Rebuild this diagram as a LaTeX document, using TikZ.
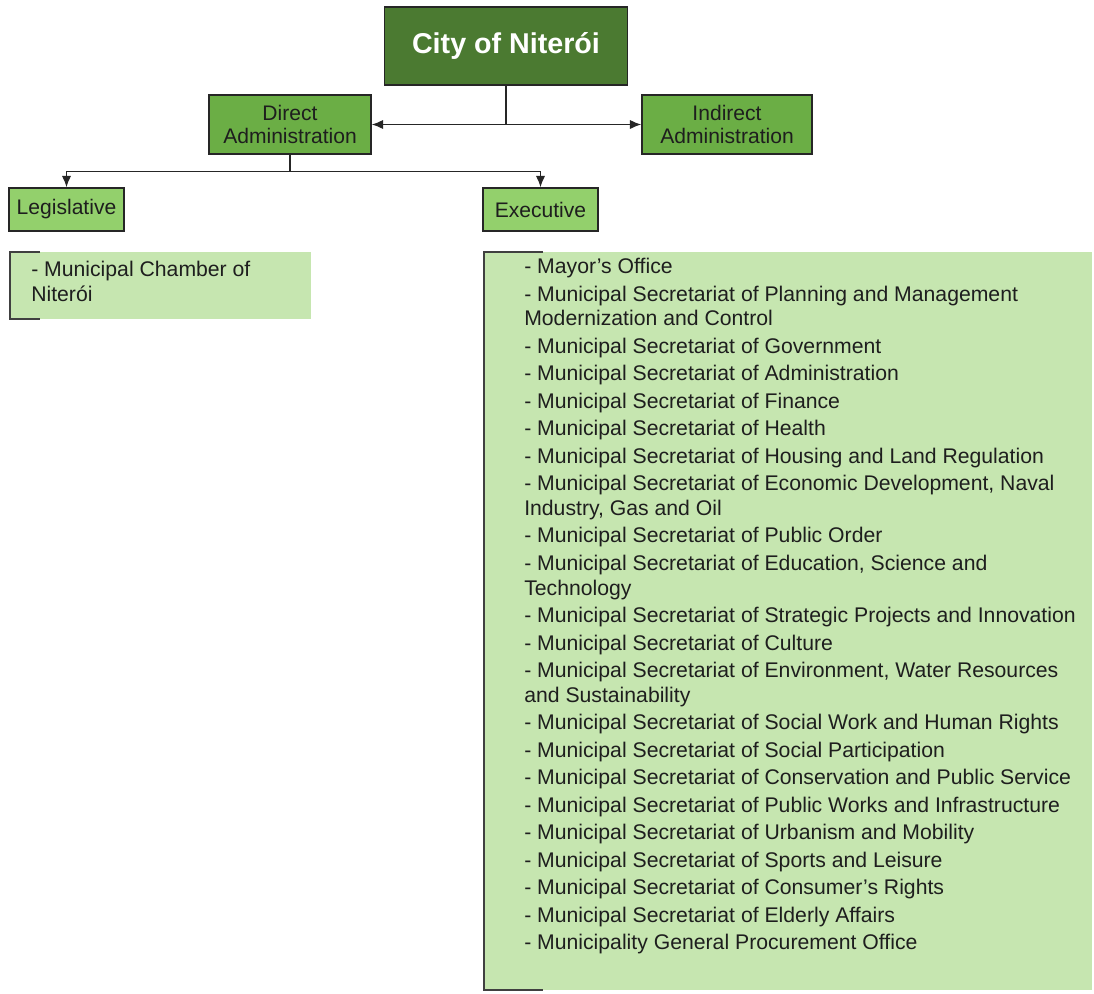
\documentclass[tikz,border=0pt]{standalone}
\usepackage{fontspec}
\setmainfont{Liberation Sans}
\usetikzlibrary{arrows.meta}
\definecolor{darkgr}{HTML}{4B7A31}
\definecolor{midgr}{HTML}{6BAE45}
\definecolor{ltgr}{HTML}{93D06C}
\definecolor{listgr}{HTML}{C6E6B0}
\definecolor{txt}{HTML}{1E1E1E}
\tikzset{
  box/.style={draw=black!85, line width=1.1pt, inner sep=0pt, align=center, text=txt,
    font=\fontsize{15.8}{17.5}\selectfont},
  titlebox/.style={box, fill=darkgr, text=white, font=\fontsize{21.5}{24}\selectfont\bfseries},
  adminbox/.style={box, fill=midgr},
  branchbox/.style={box, fill=ltgr},
  conn/.style={draw=black!85, line width=1.1pt},
  arr/.style={conn, -{Latex[length=8.5pt,width=7pt]}},
  bracket/.style={draw=black!75, line width=1.1pt},
  listtext/.style={anchor=north west, inner sep=0pt, align=left, text=txt,
    font=\fontsize{15.9}{18.4}\selectfont}
}
\begin{document}
\begin{tikzpicture}[x=0.75pt, y=-0.75pt]
\useasboundingbox (0,0) rectangle (1094,993);
% boxes
\node[titlebox, minimum width=182pt, minimum height=58.5pt] (city) at (506,46) {City of Niterói};
\node[adminbox, minimum width=121.5pt, minimum height=44.25pt] (direct) at (290,124.5) {Direct\\Administration};
\node[adminbox, minimum width=127.5pt, minimum height=44.25pt] (indirect) at (727,124.5) {Indirect\\Administration};
\node[branchbox, minimum width=86.25pt, minimum height=32.25pt] (legis) at (66.5,209.5) {\raisebox{-1pt}{Legislative}};
\node[branchbox, minimum width=86.25pt, minimum height=32.25pt] (exec) at (540.5,209.5) {Executive};
% connectors
\draw[arr] (city.south) |- (direct.east);
\draw[arr] (city.south) |- (indirect.west);
\draw[conn] (direct.south) -- ++(0,17) coordinate (j2);
\draw[arr] (j2) -| (legis.north);
\draw[arr] (j2) -| (exec.north);
% legislative list
\fill[listgr] (10,252) rectangle (311,319);
\draw[bracket] (40,252) -- (10,252) -- (10,319) -- (40,319);
\node[listtext] (legtext) at (31,261) {- Municipal Chamber of\\Niterói};
% executive list
\fill[listgr] (484,252) rectangle (1092,990);
\draw[bracket] (543,252) -- (484,252) -- (484,990) -- (543,990);
\node[listtext] (exectext) at (524,258) {%
- Mayor’s Office\\[2.25pt]
- Municipal Secretariat of Planning and Management\\
Modernization and Control\\[2.25pt]
- Municipal Secretariat of Government\\[2.25pt]
- Municipal Secretariat of Administration\\[2.25pt]
- Municipal Secretariat of Finance\\[2.25pt]
- Municipal Secretariat of Health\\[2.25pt]
- Municipal Secretariat of Housing and Land Regulation\\[2.25pt]
- Municipal Secretariat of Economic Development, Naval\\
Industry, Gas and Oil\\[2.25pt]
- Municipal Secretariat of Public Order\\[2.25pt]
- Municipal Secretariat of Education, Science and\\
Technology\\[2.25pt]
- Municipal Secretariat of Strategic Projects and Innovation\\[2.25pt]
- Municipal Secretariat of Culture\\[2.25pt]
- Municipal Secretariat of Environment, Water Resources\\
and Sustainability\\[2.25pt]
- Municipal Secretariat of Social Work and Human Rights\\[2.25pt]
- Municipal Secretariat of Social Participation\\[2.25pt]
- Municipal Secretariat of Conservation and Public Service\\[2.25pt]
- Municipal Secretariat of Public Works and Infrastructure\\[2.25pt]
- Municipal Secretariat of Urbanism and Mobility\\[2.25pt]
- Municipal Secretariat of Sports and Leisure\\[2.25pt]
- Municipal Secretariat of Consumer’s Rights\\[2.25pt]
- Municipal Secretariat of Elderly Affairs\\[2.25pt]
- Municipality General Procurement Office};
\end{tikzpicture}
\end{document}
